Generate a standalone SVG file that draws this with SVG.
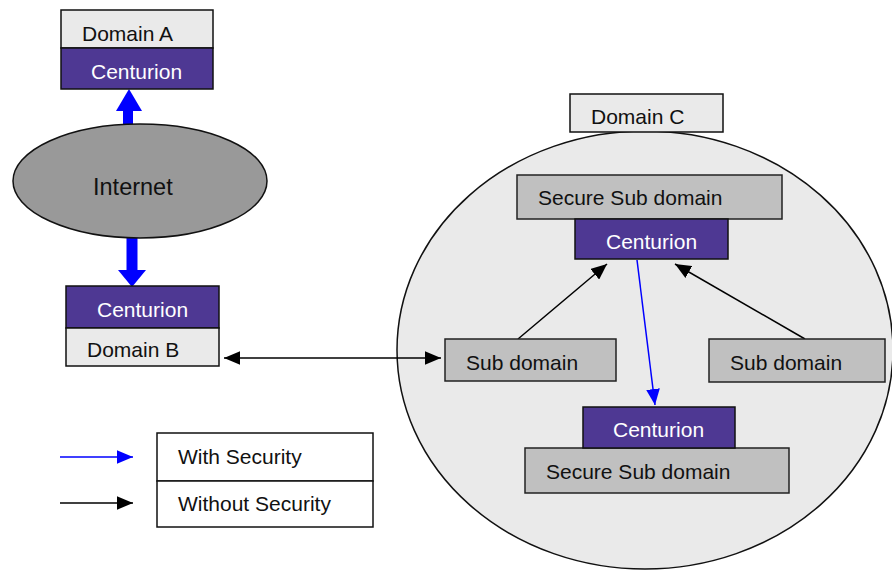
<svg xmlns="http://www.w3.org/2000/svg" width="892" height="570" viewBox="0 0 892 570">
<defs>
<style>
text{font-family:"Liberation Sans",Arial,sans-serif;font-size:21px;fill:#111}
.w{fill:#fff}
.lt{fill:#eaeaea;stroke:#111;stroke-width:1.5}
.gr{fill:#c0c0c0;stroke:#222;stroke-width:1.5}
.pu{fill:#4e3893;stroke:#111;stroke-width:1.5}
.bk{stroke:#000;stroke-width:1.5;fill:none}
.bl{stroke:#0000ff;stroke-width:1.5;fill:none}
</style>
<marker id="ak" viewBox="0 0 14 12" refX="14" refY="6" markerWidth="16" markerHeight="14" markerUnits="userSpaceOnUse" orient="auto-start-reverse"><path d="M0,0 L14,6 L0,12 z" fill="#000"/></marker>
<marker id="au" viewBox="0 0 14 12" refX="14" refY="6" markerWidth="16" markerHeight="14" markerUnits="userSpaceOnUse" orient="auto"><path d="M0,0 L14,6 L0,12 z" fill="#0000ff"/></marker>
</defs>
<rect width="892" height="570" fill="#fff"/>

<g id="domainC-circle"><ellipse cx="645" cy="350" rx="248" ry="219" fill="#eaeaea" stroke="#111" stroke-width="1.5"/></g>

<g id="connectors">
<path d="M128,124 V111" stroke="#0000ff" stroke-width="10"/>
<path d="M116,111 L129,89 L142,111 z" fill="#0000ff"/>
<path d="M132,238 V271" stroke="#0000ff" stroke-width="11"/>
<path d="M118,270 L146,270 L132,287 z" fill="#0000ff"/>
<line x1="224" y1="358" x2="441" y2="358" class="bk" marker-start="url(#ak)" marker-end="url(#ak)"/>
<line x1="518" y1="339" x2="607" y2="264" class="bk" marker-end="url(#ak)"/>
<line x1="805" y1="339" x2="675" y2="264" class="bk" marker-end="url(#ak)"/>
<line x1="637" y1="260" x2="655" y2="405" class="bl" marker-end="url(#au)"/>
<line x1="60" y1="457" x2="133" y2="457" class="bl" marker-end="url(#au)"/>
<line x1="60" y1="503" x2="133" y2="503" class="bk" marker-end="url(#ak)"/>
</g>

<g id="domainA">
<rect x="61" y="10" width="152" height="38" class="lt"/>
<text x="82" y="41">Domain A</text>
<rect x="61" y="48" width="152" height="41" class="pu"/>
<text x="91" y="79" class="w">Centurion</text>
</g>

<g id="internet">
<ellipse cx="140" cy="181" rx="127" ry="57" fill="#999" stroke="#111" stroke-width="1.5"/>
<text x="93" y="195" style="font-size:23.5px">Internet</text>
</g>

<g id="domainB">
<rect x="66" y="286" width="153" height="42" class="pu"/>
<text x="97" y="317" class="w">Centurion</text>
<rect x="66" y="328" width="153" height="38" class="lt"/>
<text x="87" y="357">Domain B</text>
</g>

<g id="domainC">
<rect x="570" y="94" width="153" height="38" class="lt"/>
<text x="591" y="124">Domain C</text>
</g>

<g id="secure-top">
<rect x="517" y="175" width="265" height="44" class="gr"/>
<text x="538" y="205">Secure Sub domain</text>
<rect x="575" y="219" width="153" height="40" class="pu"/>
<text x="606" y="249" class="w">Centurion</text>
</g>

<g id="sub-left">
<rect x="445" y="339" width="171" height="42" class="gr"/>
<text x="466" y="370">Sub domain</text>
</g>

<g id="sub-right">
<rect x="709" y="339" width="176" height="43" class="gr"/>
<text x="730" y="370">Sub domain</text>
</g>

<g id="secure-bottom">
<rect x="525" y="448" width="264" height="45" class="gr"/>
<text x="546" y="479">Secure Sub domain</text>
<rect x="583" y="407" width="152" height="41" class="pu"/>
<text x="613" y="437" class="w">Centurion</text>
</g>

<g id="legend">
<rect x="157" y="433" width="216" height="48" fill="#fff" stroke="#111" stroke-width="1.5"/>
<rect x="157" y="481" width="216" height="46" fill="#fff" stroke="#111" stroke-width="1.5"/>
<text x="178" y="464">With Security</text>
<text x="178" y="511">Without Security</text>
</g>
</svg>
